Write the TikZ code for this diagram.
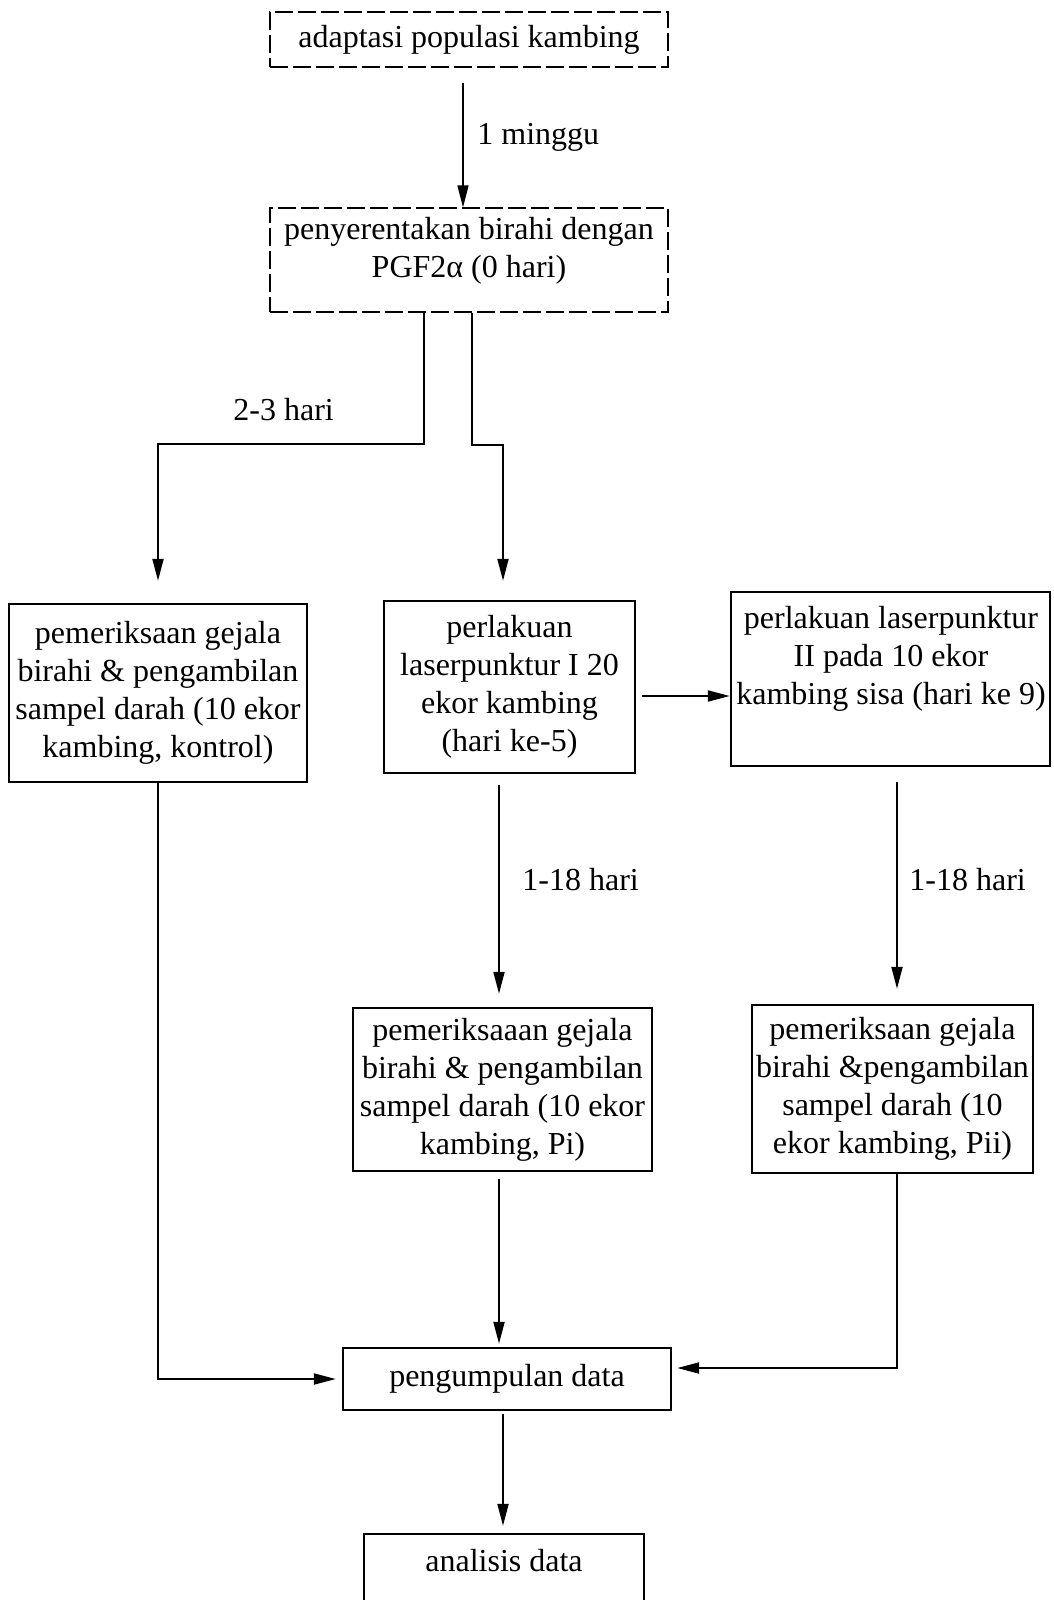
\documentclass[tikz,border=0pt]{standalone}
\usepackage{fontspec}
\setmainfont{Liberation Serif}
\usetikzlibrary{arrows.meta,calc}
\begin{document}
\begin{tikzpicture}[x=0.5pt,y=-0.5pt,
  every node/.style={font=\fontsize{16pt}{19pt}\selectfont, inner sep=0pt},
  box/.style={draw, line width=1.2pt, rectangle, align=center},
  dbox/.style={draw, line width=0.55pt, dash pattern=on 9pt off 2.5pt, rectangle},
  txt/.style={align=center},
  lbl/.style={anchor=west},
  arr/.style={draw, line width=1pt, -{Triangle[length=11pt,width=5.5pt]}}]
\useasboundingbox (0,0) rectangle (1054,1600);
% boxes
\node[dbox, minimum width=199pt, minimum height=27.5pt] (b1) at (469,39.5) {adaptasi populasi kambing};
\node[dbox, minimum width=199pt, minimum height=52pt] (b2) at (469,260) {};
\node[txt] (t2) at (469,251) {penyerentakan birahi dengan\\PGF2α (0 hari)};
\node[box, minimum width=149pt, minimum height=89pt] (b3) at (158,693) {pemeriksaan gejala\\birahi \& pengambilan\\sampel darah (10 ekor\\kambing, kontrol)};
\node[box, minimum width=125.5pt, minimum height=86pt] (b4) at (509.5,687) {perlakuan\\laserpunktur I 20\\ekor kambing\\(hari ke-5)};
\node[box, minimum width=159.5pt, minimum height=87pt] (b5) at (890.5,679) {};
\node[txt] (t5) at (891,659) {perlakuan laserpunktur\\II pada 10 ekor\\kambing sisa (hari ke 9)};
\node[box, minimum width=149.5pt, minimum height=81.5pt] (b6) at (502.5,1089.5) {pemeriksaaan gejala\\birahi \& pengambilan\\sampel darah (10 ekor\\kambing, Pi)};
\node[box, minimum width=140.5pt, minimum height=84pt] (b7) at (892.5,1089) {pemeriksaan gejala\\birahi \&pengambilan\\sampel darah (10\\ekor kambing, Pii)};
\node[box, minimum width=164pt, minimum height=31pt] (pg) at (507,1379) {pengumpulan data};
\node[box, minimum width=140pt, minimum height=53pt] (an) at (504,1587) {};
\node[txt] (tan) at (504,1561) {analisis data};
% labels
\node[lbl] (l1) at (477,137) {1 minggu};
\node[lbl] (l2) at (233,410) {2-3 hari};
\node[lbl] (l3) at (522,880) {1-18 hari};
\node[lbl] (l4) at (909,880) {1-18 hari};
% connectors
\draw[arr, line width=0.7pt, shorten <=7.5pt] ([xshift=-3pt]b1.south) -- ([xshift=-3pt]b2.north);
\draw[arr, shorten >=11pt] ([xshift=-22.5pt]b2.south) -- ++(0,131) -| (b3.north);
\draw[arr, shorten >=9.5pt] ([xshift=1.5pt]b2.south) -- ++(0,132) -| ([xshift=-3.25pt]b4.north);
\draw[arr, shorten <=3pt] ([yshift=-4.5pt]b4.east) -- ([yshift=-4.5pt]b4.east -| b5.west);
\draw[arr, shorten <=5.5pt, shorten >=6.5pt] ([xshift=-5.25pt]b4.south) -- ([xshift=-5.25pt]b4.south |- b6.north);
\draw[arr, shorten <=7.5pt, shorten >=7.5pt] ([xshift=3.25pt]b5.south) -- ([xshift=3.25pt]b5.south |- b7.north);
\draw[arr, shorten >=3pt] (b3.south) |- (pg.west);
\draw[arr, shorten <=3.5pt, shorten >=1.5pt] ([xshift=-1.75pt]b6.south) -- ([xshift=-1.75pt]b6.south |- pg.north);
\draw[arr, shorten >=2.5pt] ([xshift=2.25pt]b7.south) |- ([yshift=5.5pt]pg.east);
\draw[arr, shorten <=1.5pt, shorten >=3.5pt] ([xshift=-2pt]pg.south) -- ([xshift=-2pt]pg.south |- an.north);
\end{tikzpicture}
\end{document}
